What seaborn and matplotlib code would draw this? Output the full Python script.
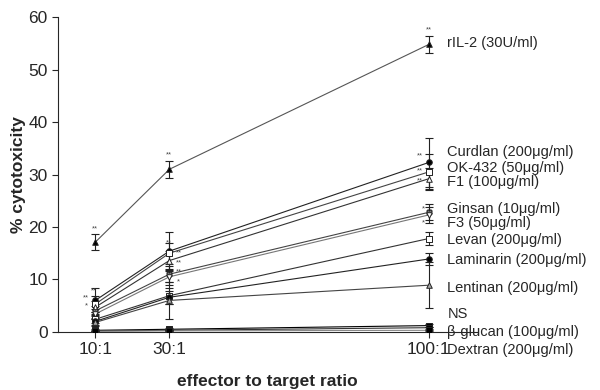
import matplotlib
matplotlib.use("Agg")
import matplotlib.pyplot as plt
import seaborn as sns
import pandas as pd
import numpy as np


# effector to target ratios on the x axis
ratios = [10, 30, 100]
ratio_labels = ["10:1", "30:1", "100:1"]

# mean % cytotoxicity and error
series_names = ["rIL-2 (30U/ml)", "Curdlan (200μg/ml)", "OK-432 (50μg/ml)", "F1 (100μg/ml)",
                "Ginsan (10μg/ml)", "F3 (50μg/ml)", "Levan (200μg/ml)", "Laminarin (200μg/ml)",
                "Lentinan (200μg/ml)", "NS", "β-glucan (100μg/ml)", "Dextran (200μg/ml)"]
ril2 = [17.1, 31.0, 54.8]
curdlan = [6.0, 15.4, 32.3]
ok432 = [5.3, 15.0, 30.5]
f1 = [4.7, 13.6, 29.2]
ginsan = [4.0, 11.0, 22.8]
f3 = [3.4, 10.5, 22.3]
levan = [2.4, 6.9, 17.8]
laminarin = [2.0, 6.6, 13.9]
lentinan = [1.8, 6.0, 8.9]
ns = [0.3, 0.5, 1.2]
bglucan = [0.2, 0.3, 0.8]
dextran = [0.1, 0.2, 0.3]

ril2_err = [1.5, 1.6, 1.6]
curdlan_err = [2.3, 3.7, 4.7]
ok432_err = [1.5, 2.0, 3.5]
f1_err = [1.2, 1.8, 2.0]
ginsan_err = [1.0, 1.5, 1.5]
f3_err = [1.0, 1.5, 1.5]
levan_err = [0.8, 1.5, 1.2]
laminarin_err = [0.6, 1.2, 1.2]
lentinan_err = [0.6, 3.5, 4.4]
ns_err = [0.2, 0.2, 0.3]
bglucan_err = [0.1, 0.1, 0.2]
dextran_err = [0.1, 0.1, 0.1]

means = [ril2, curdlan, ok432, f1, ginsan, f3, levan, laminarin, lentinan, ns, bglucan, dextran]
errors = [ril2_err, curdlan_err, ok432_err, f1_err, ginsan_err, f3_err, levan_err,
          laminarin_err, lentinan_err, ns_err, bglucan_err, dextran_err]

# where the series names sit on the right (data y)
label_y = [55.0, 34.3, 31.3, 28.5, 23.5, 20.7, 17.5, 13.7, 8.4, 3.4, 0.0, -3.4]

# significance stars: (ratio, y, text)
stars = [(10, 19.6, "**"), (30, 33.7, "**"), (100, 57.6, "**"),
         (97.5, 33.6, "**"), (97.5, 30.7, "**"), (97.5, 28.8, "**"),
         (98.5, 23.4, "*"), (98.5, 20.8, "*"),
         (30, 16.9, "**"), (32.5, 15.0, "**"), (32.5, 13.2, "**"), (32.5, 11.5, "**"), (32.5, 9.6, "*"),
         (9.5, 7.8, "**"), (7.5, 6.4, "**"), (7.5, 5.0, "*")]

markers = ["^", "o", "s", "^", "X", "v", "s", "o", "^", "s", "s", "s"]
facecols = ["black", "black", "white", "white", "gray", "white", "white", "black", "#aaaaaa",
            "black", "black", "black"]
linecols = ["#555555", "#222222", "#444444", "#333333", "#444444", "#777777", "#333333",
            "#222222", "#444444", "black", "#333333", "#888888"]

rows = []
for name, m, e in zip(series_names, means, errors):
    for r, v, s in zip(ratios, m, e):
        rows.append({"ratio": r, "value": v, "err": s, "series": name})
df = pd.DataFrame(rows)

sns.set_style("ticks")
plt.rcParams["font.family"] = ["Liberation Sans", "DejaVu Sans"]

fig = plt.figure(figsize=(6, 3.9), dpi=100)
ax = fig.add_axes([0.097, 0.149, 0.698, 0.807])

sns.lineplot(data=df, x="ratio", y="value", hue="series", hue_order=series_names,
             palette=dict(zip(series_names, linecols)), legend=False, linewidth=0.8,
             errorbar=None, ax=ax)

for i, name in enumerate(series_names):
    sub = df[df["series"] == name]
    ax.errorbar(sub["ratio"], sub["value"], yerr=sub["err"], fmt="none", ecolor="#222222",
                elinewidth=0.8, capsize=3, capthick=0.8)
    ax.scatter(sub["ratio"], sub["value"], marker=markers[i], s=16, facecolor=facecols[i],
               edgecolor="#222222", linewidth=0.7, zorder=5)
    ax.text(105, label_y[i], name, fontsize=10.5, va="center", ha="left", clip_on=False)

for x, y, t in stars:
    ax.text(x, y, t, fontsize=5.5, ha="center", va="center", color="#444444")

ax.set_xlim(0, 113)
ax.set_ylim(0, 60)
ax.set_xticks(ratios)
ax.set_xticklabels(ratio_labels)
ax.set_yticks(np.arange(0, 61, 10))
ax.tick_params(labelsize=12.5, length=4, width=0.8)
ax.set_xlabel("effector to target ratio", fontsize=12.5, fontweight="bold", labelpad=12)
ax.set_ylabel("% cytotoxicity", fontsize=12.5, fontweight="bold", labelpad=2)
for sp in ["left", "bottom"]:
    ax.spines[sp].set_linewidth(0.8)
sns.despine(ax=ax)

fig.savefig("out.png", dpi=100)
